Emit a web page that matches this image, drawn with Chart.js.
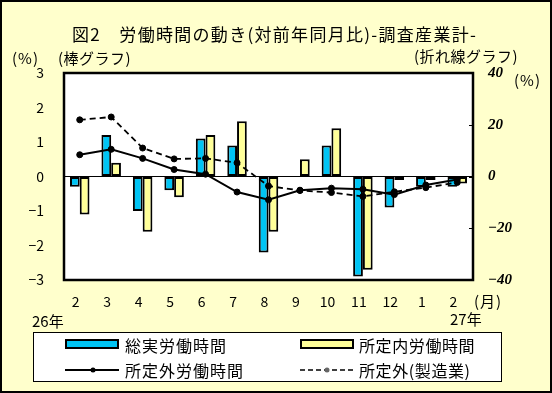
<!DOCTYPE html>
<html><head><meta charset="utf-8">
<script src="https://cdn.jsdelivr.net/npm/chart.js@4.4.1/dist/chart.umd.min.js"></script>
<style>
html,body{margin:0;padding:0;background:#FFFFCC;}
#wrap{position:relative;width:552px;height:393px;background:#FFFFCC;overflow:hidden;font-family:"Noto Sans CJK JP",sans-serif;color:#000;}
#frame{position:absolute;left:0;top:0;width:552px;height:393px;box-sizing:border-box;border:2px solid #000;pointer-events:none;}
canvas{position:absolute;left:0;top:0;}
.t{position:absolute;white-space:nowrap;line-height:1;transform:translateY(-50%);}
#legend{position:absolute;left:33px;top:332px;width:469px;height:50px;box-sizing:border-box;border:1px solid #000;background:#fff;}
.sw{position:absolute;box-sizing:border-box;border:2px solid #000;height:10px;width:54px;}
</style></head><body>
<div id="wrap">
<canvas id="c" width="552" height="393"></canvas>
<div class="t" style="left:72px;top:33px;font-size:17px;letter-spacing:1.3px">図2　労働時間の動き(対前年同月比)-調査産業計-</div>
<div class="t" style="left:12px;top:57px;font-size:15px;letter-spacing:1px">(%)</div>
<div class="t" style="left:58px;top:57px;font-size:15px;letter-spacing:0.5px">(棒グラフ)</div>
<div class="t" style="left:414px;top:55px;font-size:15px;letter-spacing:0.5px">(折れ線グラフ)</div>
<div class="t" style="left:514px;top:79px;font-size:15px;letter-spacing:1px">(%)</div>
<div class="t" style="left:474px;top:300px;font-size:15px;letter-spacing:1px">(月)</div>
<div class="t" style="left:32px;top:320px;font-size:15px;">26年</div>
<div class="t" style="left:450px;top:318px;font-size:15px;">27年</div>
<div id="legend"></div>
<div id="frame"></div>
</div>
<script>
const categories = ['2','3','4','5','6','7','8','9','10','11','12','1','2'];
const totalHours = [-0.3, 1.2, -1.0, -0.4, 1.1, 0.9, -2.2, 0, 0.9, -2.9, -0.9, -0.3, -0.3];
const scheduledHours = [-1.1, 0.4, -1.6, -0.6, 1.2, 1.6, -1.6, 0.5, 1.4, -2.7, -0.1, -0.1, -0.2];
const overtimeHours = [8.4, 10.5, 7.0, 2.7, 0.9, -6.0, -9.0, -5.3, -4.5, -4.9, -7.0, -3.3, -1.2];
const overtimeMfg = [21.9, 23.0, 11.0, 6.8, 7.0, 5.3, -3.7, -5.4, -6.2, -7.7, -5.9, -4.3, -2.3];
const leftTicks = [-3, -2, -1, 0, 1, 2, 3];
const rightTicks = [-40, -20, 0, 20, 40];
const seriesNames = ['総実労働時間', '所定内労働時間', '所定外労働時間', '所定外(製造業)'];

const BLUE = '#00C4F4', YELLOW = '#FFFF99';

function fmt(v){ return v < 0 ? '\u2212' + Math.abs(v) : String(v); }

// legend (HTML)
const lg = document.getElementById('legend');
lg.innerHTML =
  '<div class="sw" style="left:31px;top:6px;background:'+BLUE+'"></div>' +
  '<div class="t" style="left:91px;top:12px;font-size:16px;letter-spacing:1px">'+seriesNames[0]+'</div>' +
  '<div class="sw" style="left:266px;top:6px;background:'+YELLOW+'"></div>' +
  '<div class="t" style="left:325px;top:12px;font-size:16px;letter-spacing:0.6px">'+seriesNames[1]+'</div>' +
  '<svg style="position:absolute;left:31px;top:31px" width="56" height="12"><line x1="0" y1="6" x2="54" y2="6" stroke="#000" stroke-width="2"/><circle cx="28" cy="6" r="2.5" fill="#000"/></svg>' +
  '<div class="t" style="left:91px;top:37px;font-size:16px;letter-spacing:1px">'+seriesNames[2]+'</div>' +
  '<svg style="position:absolute;left:266px;top:31px" width="56" height="12"><line x1="0" y1="6" x2="54" y2="6" stroke="#000" stroke-width="1.5" stroke-dasharray="5,3"/><circle cx="27" cy="6" r="2.5" fill="#666"/></svg>' +
  '<div class="t" style="left:325px;top:37px;font-size:16px;letter-spacing:0.6px">'+seriesNames[3]+'</div>';

const framePlugin = {
  id: 'frame',
  beforeDraw(chart){
    const {ctx, chartArea:a} = chart;
    ctx.save(); ctx.fillStyle = '#fff';
    ctx.fillRect(a.left, a.top, a.right - a.left, a.bottom - a.top);
    ctx.restore();
  },
  afterDraw(chart){
    const {ctx, chartArea:a, scales} = chart;
    ctx.save();
    ctx.strokeStyle = '#000';
    ctx.lineWidth = 1;
    for (const v of rightTicks){
      const y = Math.round(scales.yR.getPixelForValue(v)) + 0.5;
      ctx.beginPath(); ctx.moveTo(a.right - 4, y); ctx.lineTo(a.right, y); ctx.stroke();
    }
    ctx.lineWidth = 2.5;
    ctx.strokeRect(a.left, a.top, a.right - a.left, a.bottom - a.top);
    ctx.restore();
  }
};

new Chart(document.getElementById('c'), {
  data: {
    labels: categories,
    datasets: [
      { type:'line', label: seriesNames[2], data: overtimeHours, yAxisID:'yR', order:0,
        borderColor:'#000', borderWidth:2, pointRadius:3, pointBackgroundColor:'#000', pointBorderColor:'#000', pointBorderWidth:1, tension:0 },
      { type:'line', label: seriesNames[3], data: overtimeMfg, yAxisID:'yR', order:0,
        borderColor:'#000', borderWidth:1.8, borderDash:[6,4], pointRadius:3, pointBackgroundColor:'#000', pointBorderColor:'#000', pointBorderWidth:1, tension:0 },
      { type:'bar', label: seriesNames[0], data: totalHours, yAxisID:'yL', order:1,
        backgroundColor: BLUE, borderColor:'#000', borderWidth:2, borderSkipped:false,
        categoryPercentage:0.62, barPercentage:1.0 },
      { type:'bar', label: seriesNames[1], data: scheduledHours, yAxisID:'yL', order:1,
        backgroundColor: YELLOW, borderColor:'#000', borderWidth:2, borderSkipped:false,
        categoryPercentage:0.62, barPercentage:1.0 }
    ]
  },
  options: {
    responsive:false, animation:false, devicePixelRatio:1,
    layout:{ padding:{ left:0, right:0, top:73, bottom:83 } },
    plugins:{ legend:{display:false}, tooltip:{enabled:false} },
    scales:{
      x:{ type:'category', offset:true,
        grid:{display:false}, border:{display:false},
        ticks:{ color:'#000', font:{family:'Noto Sans CJK JP', size:14}, padding:5, labelOffset:-4, maxRotation:0, autoSkip:false },
        afterFit(s){ s.height = 30; } },
      yL:{ type:'linear', position:'left', min:-3, max:3,
        afterBuildTicks(s){ s.ticks = leftTicks.map(v => ({value:v})); },
        grid:{ drawTicks:false, color: c => (c.tick && c.tick.value === 0) ? '#000' : 'rgba(0,0,0,0)', lineWidth:1 },
        border:{display:false},
        ticks:{ color:'#000', font:{family:'Noto Sans CJK JP', size:14}, padding:20, callback: v => fmt(v) },
        afterFit(s){ s.width = 64; } },
      yR:{ type:'linear', position:'right', min:-40, max:40,
        afterBuildTicks(s){ s.ticks = rightTicks.map(v => ({value:v})); },
        grid:{ display:false, drawTicks:false }, border:{display:false},
        ticks:{ color:'#000', font:{family:'Liberation Serif', size:15, style:'italic', weight:'bold'}, padding:15, callback: v => fmt(v) },
        afterFit(s){ s.width = 79; } }
    }
  },
  plugins:[framePlugin]
});
</script>
</body></html>
